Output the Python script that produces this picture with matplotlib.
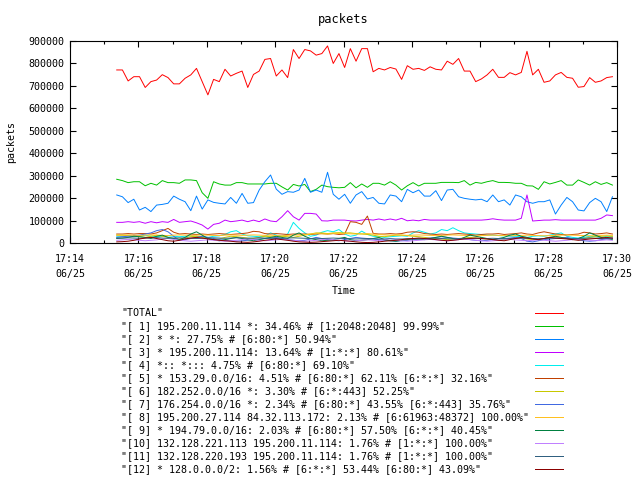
import numpy as np
import pandas as pd
import matplotlib
matplotlib.use('Agg')
import matplotlib.pyplot as plt
import matplotlib.dates as mdates
from matplotlib.lines import Line2D
from matplotlib.ticker import FuncFormatter, MultipleLocator

########## Data: packets per 10 s sample (in thousands) ##########
start = '2008-06-25 17:15:22'
step = '10s'

total = [771, 771, 722, 741, 741, 693, 719, 726, 750, 737, 709,
         709, 734, 749, 778, 719, 660, 729, 719, 774, 744, 756,
         766, 693, 751, 766, 818, 822, 744, 771, 737, 862,
         822, 862, 856, 837, 844, 878, 800, 844, 782, 866,
         810, 866, 866, 763, 778, 771, 782, 775, 729, 790,
         774, 778, 769, 785, 774, 771, 810, 796, 822, 766,
         766, 719, 731, 749, 774, 738, 738, 759, 749, 760,
         854, 749, 774, 716, 722, 749, 760, 738, 734, 694,
         697, 737, 716, 722, 737, 741]

s1 = [284, 278, 269, 273, 273, 255, 266, 258, 278, 269, 269,
      266, 281, 281, 278, 224, 199, 273, 263, 258, 258, 269,
      269, 263, 263, 263, 263, 266, 266, 250, 236, 261,
      254, 261, 229, 239, 258, 251, 248, 246, 248, 269,
      246, 263, 248, 266, 266, 258, 273, 258, 236, 255,
      269, 254, 266, 266, 266, 270, 270, 270, 269, 278,
      258, 270, 266, 273, 278, 270, 270, 269, 266, 266,
      255, 254, 239, 273, 263, 270, 278, 258, 258, 281,
      270, 258, 273, 261, 269, 258]

s2 = [214, 206, 180, 195, 147, 159, 140, 169, 172, 177, 209,
      195, 184, 144, 209, 151, 192, 181, 177, 174, 203, 177,
      221, 177, 180, 236, 273, 303, 240, 217, 229, 226,
      236, 288, 226, 236, 226, 315, 217, 195, 217, 177,
      214, 229, 196, 203, 177, 174, 214, 209, 184, 239,
      224, 236, 209, 209, 233, 189, 236, 239, 206, 199,
      195, 192, 195, 184, 214, 184, 192, 169, 214, 206,
      184, 177, 184, 184, 192, 129, 169, 203, 184, 147,
      143, 180, 199, 184, 140, 206]

s3 = [92, 92, 95, 92, 95, 88, 95, 90, 95, 92, 105,
      92, 95, 98, 90, 80, 62, 83, 88, 102, 95, 98,
      102, 95, 102, 95, 107, 98, 95, 117, 144, 117,
      102, 132, 132, 129, 99, 98, 102, 102, 102, 99,
      98, 102, 105, 102, 107, 102, 107, 102, 110, 99,
      102, 99, 105, 102, 102, 102, 102, 102, 102, 102,
      102, 102, 102, 104, 108, 104, 102, 102, 102, 110,
      214, 98, 100, 102, 102, 104, 102, 102, 102, 102,
      102, 102, 102, 110, 125, 122]

s4 = [30, 30, 32, 28, 30, 35, 30, 28, 30, 32, 30,
      28, 30, 32, 30, 28, 25, 30, 32, 38, 50, 55,
      40, 32, 30, 28, 30, 45, 35, 30, 40, 92, 65,
      45, 30, 35, 48, 55, 50, 60, 40, 30, 35, 53,
      38, 30, 28, 25, 28, 30, 32, 30, 45, 55, 48,
      40, 45, 60, 55, 68, 55, 45, 42, 40, 38, 35,
      35, 33, 32, 30, 30, 28, 25, 30, 32, 30, 35,
      40, 45, 30, 25, 22, 25, 30, 28, 25, 30, 28]

s5 = [40, 40, 42, 40, 42, 42, 40, 45, 55, 65, 48,
      40, 42, 40, 38, 40, 38, 40, 42, 40, 38, 40,
      42, 45, 52, 50, 42, 40, 42, 40, 38, 40, 40,
      40, 38, 40, 42, 40, 42, 38, 40, 95, 92, 83,
      120, 43, 40, 40, 42, 40, 42, 48, 50, 48, 42,
      40, 38, 40, 38, 40, 42, 40, 38, 35, 38, 40,
      40, 42, 38, 40, 42, 45, 40, 38, 45, 50, 45,
      40, 38, 36, 38, 40, 48, 45, 40, 42, 45, 40]

s6 = [35, 35, 33, 30, 28, 25, 30, 35, 30, 25, 20,
      18, 22, 28, 30, 25, 20, 15, 18, 25, 30, 28,
      25, 22, 20, 25, 30, 28, 25, 30, 28, 25, 30,
      35, 40, 45, 45, 42, 45, 46, 45, 45, 42, 40,
      38, 35, 30, 28, 32, 35, 35, 33, 30, 28, 25,
      22, 20, 18, 15, 18, 20, 22, 25, 22, 20, 18,
      15, 12, 15, 18, 20, 22, 18, 15, 18, 20, 25,
      28, 25, 20, 18, 15, 20, 25, 28, 30, 32, 30]

s7 = [25, 28, 30, 32, 35, 40, 45, 55, 60, 50, 30,
      12, 15, 20, 25, 30, 25, 20, 15, 12, 10, 8,
      10, 12, 15, 18, 20, 22, 25, 20, 15, 12, 10,
      12, 18, 25, 20, 15, 12, 10, 15, 20, 25, 22,
      20, 18, 15, 12, 10, 8, 10, 12, 15, 18, 20,
      22, 25, 28, 25, 22, 20, 18, 15, 12, 10, 12,
      15, 18, 20, 22, 25, 20, 8, 5, 10, 15, 18,
      20, 22, 25, 20, 15, 10, 8, 10, 15, 18, 20]

s8 = [35, 35, 36, 35, 34, 35, 36, 35, 34, 33, 35,
      36, 35, 34, 35, 36, 35, 34, 33, 35, 36, 35,
      34, 35, 36, 35, 34, 35, 33, 32, 34, 35, 36,
      38, 40, 42, 41, 40, 42, 43, 42, 41, 40, 41,
      42, 40, 38, 36, 35, 36, 35, 34, 35, 36, 35,
      34, 33, 34, 35, 36, 35, 34, 33, 32, 33, 34,
      35, 34, 33, 32, 33, 34, 35, 34, 33, 32, 33,
      34, 35, 36, 35, 34, 33, 32, 33, 34, 35, 34]

s9 = [20, 22, 25, 30, 28, 25, 20, 30, 35, 25, 20,
      15, 25, 40, 50, 35, 20, 15, 10, 15, 20, 25,
      20, 15, 10, 15, 20, 25, 30, 25, 20, 35, 45,
      30, 20, 15, 10, 12, 15, 20, 25, 15, 10, 12,
      15, 20, 25, 15, 10, 8, 12, 15, 20, 18, 15,
      20, 25, 30, 25, 20, 15, 25, 35, 30, 25, 20,
      15, 20, 25, 35, 40, 30, 25, 20, 15, 20, 25,
      30, 25, 20, 15, 20, 30, 45, 35, 25, 20, 15]

s10 = [12, 14, 16, 14, 12, 10, 12, 14, 18, 20, 16,
       12, 10, 8, 10, 12, 14, 12, 10, 8, 10, 12,
       15, 18, 15, 12, 10, 12, 14, 16, 14, 12, 10,
       8, 10, 12, 15, 18, 15, 12, 10, 8, 10, 12,
       14, 12, 10, 15, 20, 15, 10, 8, 10, 12, 14,
       16, 14, 12, 10, 12, 15, 18, 15, 12, 10, 8,
       10, 12, 14, 16, 14, 12, 10, 12, 14, 12, 10,
       8, 10, 12, 15, 18, 15, 12, 10, 12, 14, 12]

s11 = [22, 22, 23, 22, 21, 22, 23, 24, 22, 21, 22,
       23, 22, 21, 20, 21, 22, 23, 22, 21, 22, 23,
       22, 21, 22, 23, 22, 21, 20, 21, 22, 23, 22,
       21, 20, 19, 20, 21, 22, 21, 20, 19, 18, 19,
       20, 19, 18, 18, 19, 18, 18, 19, 18, 18, 19,
       18, 19, 20, 19, 18, 19, 20, 21, 20, 19, 20,
       21, 20, 19, 20, 21, 22, 21, 20, 19, 20, 21,
       22, 21, 20, 19, 20, 21, 22, 21, 20, 21, 22]

s12 = [5, 6, 8, 12, 18, 22, 25, 20, 15, 10, 8,
       12, 18, 22, 25, 22, 18, 15, 12, 10, 8, 5,
       4, 3, 5, 8, 12, 15, 18, 15, 12, 8, 5,
       4, 3, 4, 6, 8, 10, 12, 10, 8, 5, 3,
       2, 3, 5, 8, 10, 12, 15, 18, 20, 22, 20,
       18, 15, 12, 10, 12, 15, 18, 20, 22, 20, 18,
       15, 12, 10, 15, 20, 25, 22, 18, 15, 20, 25,
       22, 20, 18, 15, 12, 15, 18, 20, 22, 25, 22]

labels = ['"TOTAL"',
          '"[ 1] 195.200.11.114 *: 34.46% # [1:2048:2048] 99.99%"',
          '"[ 2] * *: 27.75% # [6:80:*] 50.94%"',
          '"[ 3] * 195.200.11.114: 13.64% # [1:*:*] 80.61%"',
          '"[ 4] *:: *::: 4.75% # [6:80:*] 69.10%"',
          '"[ 5] * 153.29.0.0/16: 4.51% # [6:80:*] 62.11% [6:*:*] 32.16%"',
          '"[ 6] 182.252.0.0/16 *: 3.30% # [6:*:443] 52.25%"',
          '"[ 7] 176.254.0.0/16 *: 2.34% # [6:80:*] 43.55% [6:*:443] 35.76%"',
          '"[ 8] 195.200.27.114 84.32.113.172: 2.13% # [6:61963:48372] 100.00%"',
          '"[ 9] * 194.79.0.0/16: 2.03% # [6:80:*] 57.50% [6:*:*] 40.45%"',
          '"[10] 132.128.221.113 195.200.11.114: 1.76% # [1:*:*] 100.00%"',
          '"[11] 132.128.220.193 195.200.11.114: 1.76% # [1:*:*] 100.00%"',
          '"[12] * 128.0.0.0/2: 1.56% # [6:*:*] 53.44% [6:80:*] 43.09%"']

colors = ['#ff0000', '#00c000', '#0080ff', '#c000ff', '#00eeee', '#c04000',
          '#c8c800', '#4169e1', '#ffc020', '#008040', '#c080ff', '#306080',
          '#8b0000']

series = [total, s1, s2, s3, s4, s5, s6, s7, s8, s9, s10, s11, s12]

times = pd.date_range(start, periods=len(total), freq=step)

############### Plot settings ###############
plt.rcParams['font.family'] = ['DejaVu Sans Mono']
plt.rcParams['font.size'] = 7.2

W, H = 640, 480
fig = plt.figure(figsize=(6.4, 4.8), dpi=100)
ax = fig.add_axes([70 / W, 1 - 243 / H, 547 / W, 202 / H])

for vals, lab, col in zip(series, labels, colors):
    ax.plot(times, np.array(vals) * 1000, color=col, lw=0.7, label=lab)

ax.set_xlim(pd.Timestamp('2008-06-25 17:14'), pd.Timestamp('2008-06-25 17:30'))
ax.set_ylim(0, 900000)
ax.yaxis.set_major_locator(MultipleLocator(100000))
ax.yaxis.set_major_formatter(FuncFormatter(lambda v, p: '%d' % v))
ax.xaxis.set_major_locator(mdates.MinuteLocator(byminute=range(0, 60, 2)))
ax.xaxis.set_minor_locator(mdates.MinuteLocator())
ax.xaxis.set_major_formatter(mdates.DateFormatter('%H:%M\n%m/%d'))

ax.tick_params(which='both', direction='in', top=True, right=True, width=0.8)
ax.tick_params(which='major', length=4, pad=4)
ax.tick_params(axis='x', which='major', pad=8)
ax.tick_params(which='minor', length=2)
for lbl in ax.get_xticklabels():
    lbl.set_linespacing(1.6)
for sp in ax.spines.values():
    sp.set_linewidth(0.8)

ax.set_title('packets', pad=13)
ax.set_xlabel('Time', labelpad=5)
ax.set_ylabel('packets', labelpad=9)

############ Key below the plot ############
for i, (lab, col) in enumerate(zip(labels, colors)):
    y = 1 - (313 + 13 * i) / H
    fig.text(121 / W, y, lab, ha='left', va='center')
    # sample line snapped to a pixel row so it stays crisp
    y_line = 1 - (312.5 + 13 * i) / H
    fig.add_artist(Line2D([535 / W, 563 / W], [y_line, y_line], color=col,
                          lw=0.72, transform=fig.transFigure))

fig.savefig('out.png', dpi=100)
